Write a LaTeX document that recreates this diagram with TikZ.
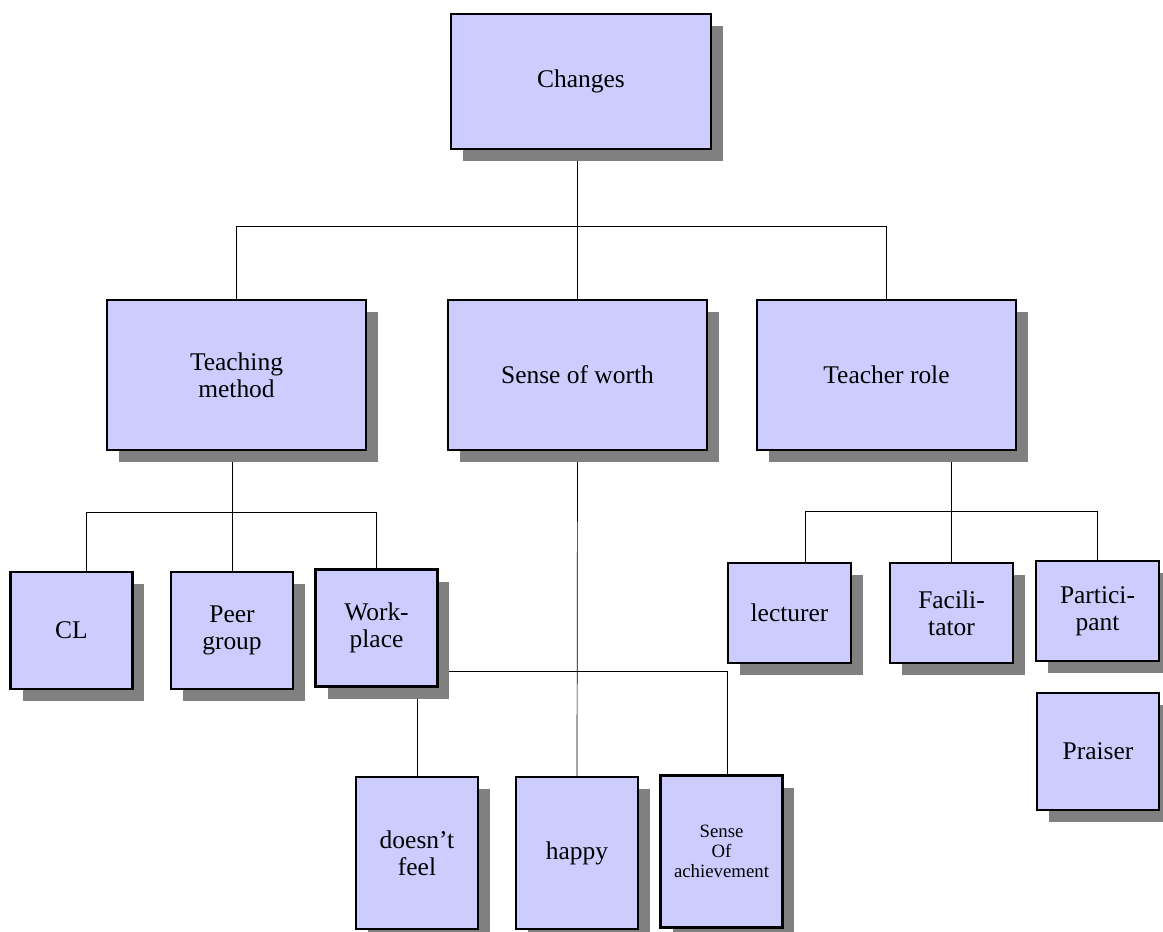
\documentclass[tikz,border=0pt]{standalone}
\usepackage{fontspec}
\setmainfont{Liberation Serif}
\usetikzlibrary{shadows,backgrounds}
\definecolor{boxfill}{HTML}{CCCCFF}
\definecolor{shadowgray}{HTML}{808080}
\begin{document}
\begin{tikzpicture}
  [x=0.02cm,y=-0.02cm,
   box/.style={rectangle,draw,line width=1.3pt,fill=boxfill,align=center,inner sep=2pt,
     font=\fontsize{14.5}{15.5}\selectfont,
     drop shadow={shadow xshift=0.24cm,shadow yshift=-0.24cm,fill=shadowgray,opacity=1}},
   topbox/.style={box,minimum width=5.2cm,minimum height=2.7cm},
   bigbox/.style={box,minimum width=5.18cm,minimum height=3cm},
   sqbox/.style={box,minimum width=2.44cm,minimum height=2.34cm},
   lowbox/.style={box,minimum width=2.46cm,minimum height=2cm},
   tallbox/.style={box,minimum width=2.44cm,minimum height=3.04cm},
   link/.style={line width=1.2pt}]
  \useasboundingbox (0,0) rectangle (1163,931);

  \node[topbox] (ch) at (581,81.5) {Changes};

  \node[bigbox] (tm) at (236.5,375) {Teaching\\method};
  \node[bigbox] (sw) at (577.5,375) {Sense of worth};
  \node[bigbox] (tr) at (886.5,375) {Teacher role};

  \node[sqbox] (cl) at (71.5,630.5) {CL};
  \node[sqbox] (pg) at (232,630.5) {Peer\\group};
  \node[sqbox] (wp) at (376.5,628) {Work-\\place};

  \node[lowbox] (lec) at (789.5,613) {lecturer};
  \node[lowbox] (fac) at (951.5,613) {Facili-\\tator};
  \node[lowbox] (par) at (1097.5,611) {Partici-\\pant};
  \node[sqbox] (pra) at (1098,751.5) {Praiser};

  \node[tallbox] (df) at (417,853) {doesn’t\\feel};
  \node[tallbox] (hap) at (577,853) {happy};
  \node[tallbox,font=\fontsize{10.7}{11.4}\selectfont] (soa) at (721.5,851.5) {Sense\\Of\\achievement};

  \coordinate (j0) at (577.5,226);
  \coordinate (j1) at (232,512);
  \coordinate (j2) at (577,671);
  \coordinate (j3) at (951,511);

  \begin{scope}[on background layer,link]
    \draw (sw.north |- ch.south) -- (sw.north);
    \draw (pg.north |- tm.south) -- (pg.north);
    \draw (sw.south) -- (hap.north);
    \draw (fac.north |- tr.south) -- (fac.north);
    \draw (df.north |- wp.south) -- (df.north);
    \draw (j2) -- (wp.east |- j2);
    \foreach \from/\to in {j0/tm.north,j0/tr.north,j1/wp.north,j3/par.north}
      \draw (\from) -| (\to);
    \draw (j1) -| ([xshift=0.29cm]cl.north);
    \draw (j3) -| ([xshift=0.31cm]lec.north);
    \draw (j2) -| ([xshift=0.11cm]soa.north);
  \end{scope}
\end{tikzpicture}
\end{document}
